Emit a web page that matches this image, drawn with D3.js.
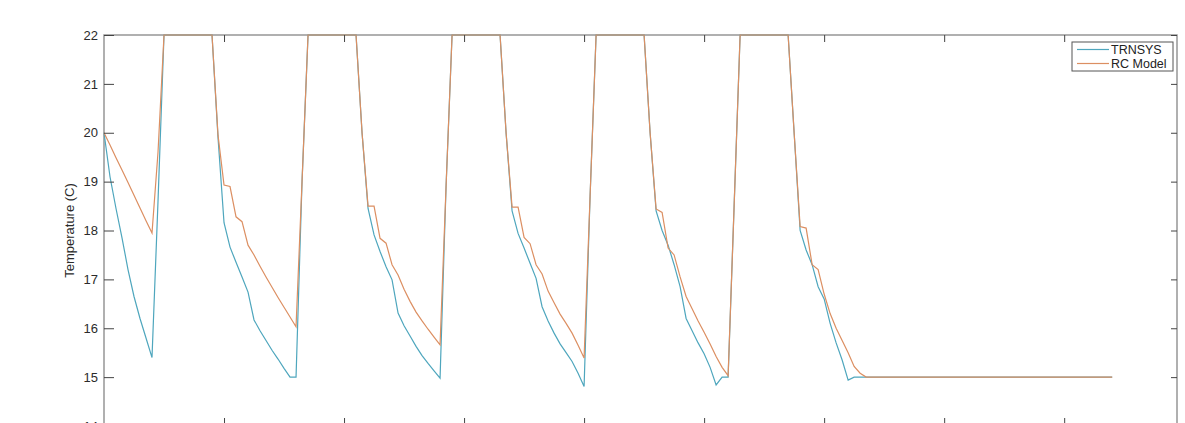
<!DOCTYPE html>
<html>
<head>
<meta charset="utf-8">
<script src="https://cdn.jsdelivr.net/npm/d3@7"></script>
<style>
  html, body { margin: 0; padding: 0; background: #fff; }
  svg { display: block; }
  text { font-family: "Liberation Sans", Arial, sans-serif; }
</style>
</head>
<body>
<svg id="chart" width="1185" height="423"></svg>
<script>
// ---- data (hours, temperature in C) ----
const hours = [0,1,2,3,4,5,6,7,8,9,10,11,12,13,14,15,16,17,18,19,20,21,22,23,24,25,26,27,28,29,30,31,32,33,34,35,36,37,38,39,40,41,42,43,44,45,46,47,48,49,50,51,52,53,54,55,56,57,58,59,60,61,62,63,64,65,66,67,68,69,70,71,72,73,74,75,76,77,78,79,80,81,82,83,84,85,86,87,88,89,90,91,92,93,94,95,96,97,98,99,100,101,102,103,104,105,106,107,108,109,110,111,112,113,114,115,116,117,118,119,120,121,122,123,124,125,126,127,128,129,130,131,132,133,134,135,136,137,138,139,140,141,142,143,144,145,146,147,148,149,150,151,152,153,154,155,156,157,158,159,160,161,162,163,164,165,166,167,168];

const trnsys = [
  20.0,19.1,18.45,17.85,17.2,16.65,16.2,15.8,15.4,18.6,
  22,22,22,22,22,22,22,22,22,19.9,
  18.16,17.66,17.35,17.05,16.74,16.17,15.95,15.75,15.55,15.37,
  15.18,15.0,15.0,19.0,22,22,22,22,22,22,
  22,22,22,20.0,18.45,17.91,17.57,17.26,16.99,16.31,
  16.05,15.84,15.63,15.44,15.28,15.13,14.98,18.9,22,22,
  22,22,22,22,22,22,22,20.0,18.4,17.94,
  17.64,17.33,17.02,16.44,16.15,15.9,15.68,15.5,15.32,15.08,
  14.81,18.7,22,22,22,22,22,22,22,22,
  22,20.0,18.4,18.0,17.7,17.3,16.85,16.2,15.95,15.7,
  15.48,15.2,14.84,15.0,15.0,18.5,22,22,22,22,
  22,22,22,22,22,20.0,18.0,17.6,17.3,16.85,
  16.6,16.1,15.7,15.35,14.94,15.0,15.0,15.0,15.0,15.0,
  15.0,15.0,15.0,15.0,15.0,15.0,15.0,15.0,15.0,15.0,
  15.0,15.0,15.0,15.0,15.0,15.0,15.0,15.0,15.0,15.0,
  15.0,15.0,15.0,15.0,15.0,15.0,15.0,15.0,15.0,15.0,
  15.0,15.0,15.0,15.0,15.0,15.0,15.0,15.0,15.0
];

const rcModel = [
  20.0,19.75,19.49,19.24,18.98,18.72,18.46,18.2,17.95,19.6,
  22,22,22,22,22,22,22,22,22,19.95,
  18.93,18.9,18.28,18.18,17.7,17.5,17.27,17.05,16.84,16.63,
  16.43,16.23,16.03,19.0,22,22,22,22,22,22,
  22,22,22,20.0,18.5,18.5,17.84,17.74,17.3,17.09,
  16.8,16.55,16.33,16.15,15.98,15.82,15.66,18.9,22,22,
  22,22,22,22,22,22,22,20.0,18.48,18.48,
  17.86,17.73,17.3,17.11,16.76,16.52,16.29,16.1,15.9,15.65,
  15.39,18.7,22,22,22,22,22,22,22,22,
  22,20.0,18.44,18.37,17.64,17.5,17.05,16.65,16.4,16.15,
  15.92,15.68,15.42,15.2,15.03,18.5,22,22,22,22,
  22,22,22,22,22,20.0,18.08,18.05,17.3,17.2,
  16.7,16.3,16.0,15.75,15.5,15.22,15.08,15.0,15.0,15.0,
  15.0,15.0,15.0,15.0,15.0,15.0,15.0,15.0,15.0,15.0,
  15.0,15.0,15.0,15.0,15.0,15.0,15.0,15.0,15.0,15.0,
  15.0,15.0,15.0,15.0,15.0,15.0,15.0,15.0,15.0,15.0,
  15.0,15.0,15.0,15.0,15.0,15.0,15.0,15.0,15.0
];

const seriesNames = ["TRNSYS", "RC Model"];
const seriesColors = ["#4ea6bd", "#dc8f62"];
const xTicks = [20, 40, 60, 80, 100, 120, 140, 160];
const yTicks = [14, 15, 16, 17, 18, 19, 20, 21, 22];
const yLabel = "Temperature (C)";

// ---- layout ----
const L = 104, R = 1177, T = 35, B = 426;
const svg = d3.select("#chart");
const x = d3.scaleLinear().domain([0, 178.8]).range([L, R]);
const y = d3.scaleLinear().domain([14, 22]).range([B, T]);

// box
svg.append("rect")
  .attr("x", L).attr("y", T).attr("width", R - L).attr("height", B - T)
  .attr("fill", "none").attr("stroke", "#8f8f8f").attr("stroke-width", 1.4);

// lines
const line = d3.line().x((d, i) => x(hours[i])).y(d => y(d));
[trnsys, rcModel].forEach((s, k) => {
  svg.append("path")
    .datum(s)
    .attr("d", line)
    .attr("fill", "none")
    .attr("stroke", seriesColors[k])
    .attr("stroke-width", 1.2);
});

// axes (MATLAB style: ticks pointing inward)
function styleAxis(g) {
  g.select(".domain").remove();
  g.selectAll(".tick line").attr("stroke", "#444").attr("stroke-width", 1);
  g.selectAll(".tick text").attr("fill", "#2b2b2b").attr("font-size", 13);
}
svg.append("g").attr("transform", `translate(${L},0)`)
  .call(d3.axisLeft(y).tickValues(yTicks).tickSize(-10).tickPadding(6).tickFormat(d3.format("d")))
  .call(styleAxis);
svg.append("g").attr("transform", `translate(${R},0)`)
  .call(d3.axisRight(y).tickValues(yTicks).tickSize(-6).tickFormat(""))
  .call(styleAxis);
svg.append("g").attr("transform", `translate(0,${T})`)
  .call(d3.axisTop(x).tickValues(xTicks).tickSize(-7).tickFormat(""))
  .call(styleAxis);
svg.append("g").attr("transform", `translate(0,${B})`)
  .call(d3.axisBottom(x).tickValues(xTicks).tickSize(-8).tickFormat(""))
  .call(styleAxis);

// y label
svg.append("text")
  .attr("transform", `translate(74,${(T + B) / 2}) rotate(-90)`)
  .attr("text-anchor", "middle")
  .attr("font-size", 13)
  .attr("fill", "#2b2b2b")
  .text(yLabel);

// legend
const lg = svg.append("g");
lg.append("rect").attr("x", 1072).attr("y", 42).attr("width", 101).attr("height", 29)
  .attr("fill", "#fff").attr("stroke", "#555").attr("stroke-width", 1);
seriesNames.forEach((n, k) => {
  const yy = 49.5 + k * 14;
  lg.append("line").attr("x1", 1077).attr("x2", 1109).attr("y1", yy).attr("y2", yy)
    .attr("stroke", seriesColors[k]).attr("stroke-width", 1.2);
  lg.append("text").attr("x", 1111).attr("y", yy + 4.5)
    .attr("font-size", 12.5).attr("fill", "#222").text(n);
});
</script>
</body>
</html>
